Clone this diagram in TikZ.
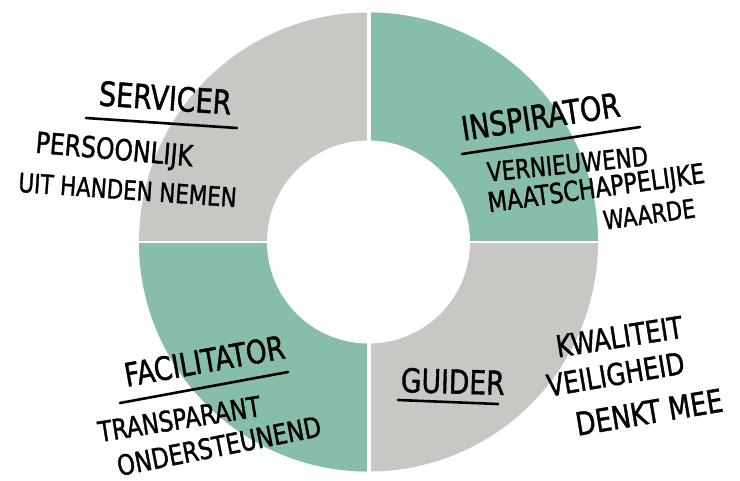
\documentclass[tikz,border=0pt]{standalone}
\usepackage{graphicx}
\usepackage{fontspec}
\setmainfont{DejaVu Sans Condensed}
\newfontfamily\handfont{DejaVu Sans Condensed}[FakeBold=1.3]
\definecolor{ringgray}{RGB}{201,199,195}
\definecolor{ringgreen}{RGB}{135,190,169}
\newcommand{\hand}[1]{\scalebox{0.97}[1.08]{\handfont #1}}
\begin{document}
\begin{tikzpicture}[x=1pt,y=-1pt,
  lbl/.style={anchor=base,inner sep=0pt,text=black,font=\fontsize{#1}{#1}\selectfont},
  uline/.style={line width=2.6pt,line cap=round,black}]
\fill[white] (0,0) rectangle (740,480);
\useasboundingbox (0,0) rectangle (740,480);
\coordinate (c) at (368.5,242);
% donut
\fill[ringgray] (c) circle[radius=229.5pt];
\begin{scope}
  \clip (368.5,0) rectangle (740,242);
  \fill[ringgreen] (c) circle[radius=229.5pt];
\end{scope}
\begin{scope}
  \clip (0,242) rectangle (368.5,480);
  \fill[ringgreen] (c) circle[radius=229.5pt];
\end{scope}
\fill[white] (c) circle[radius=101.5pt];
\fill[white] (366.5,0) rectangle (370.5,480);
\fill[white] (0,240.6) rectangle (740,243.4);
% SERVICER
\node[lbl=31,rotate=-4] (servicer) at (164.5,110) {\hand{SERVICER}};
\coordinate (su1) at (86,118); \coordinate (su2) at (237,128);
\draw[uline] (su1) -- (su2);
\node[lbl=27,rotate=-5] (persoonlijk) at (113.5,159.5) {\hand{PERSOONLIJK}};
\node[lbl=24.5,rotate=-4] (uithanden) at (127,199.5) {\hand{UIT HANDEN NEMEN}};
% INSPIRATOR
\node[lbl=31,rotate=8.8] (inspirator) at (542.5,128.5) {\hand{INSPIRATOR}};
\coordinate (iu1) at (462,154); \coordinate (iu2) at (640,127);
\draw[uline] (iu1) -- (iu2);
\node[lbl=24.5,rotate=5.8] (vernieuwend) at (568.5,173.5) {\hand{VERNIEUWEND}};
\node[lbl=25.5,rotate=7.8] (maatsch) at (597.5,197.5) {\hand{MAATSCHAPPELIJKE}};
\node[lbl=24,rotate=7.8] (waarde) at (650.5,223.5) {\hand{WAARDE}};
% FACILITATOR
\node[lbl=30,rotate=10.2] (facilitator) at (206.5,372.5) {\hand{FACILITATOR}};
\coordinate (fu1) at (120,403); \coordinate (fu2) at (288,372);
\draw[uline] (fu1) -- (fu2);
\node[lbl=26,rotate=9.2] (transparant) at (181,429) {\hand{TRANSPARANT}};
\node[lbl=26,rotate=11.2] (ondersteunend) at (221,456) {\hand{ONDERSTEUNEND}};
% GUIDER
\node[lbl=30.5,rotate=-1.6] (guider) at (452.5,393.5) {\hand{GUIDER}};
\coordinate (gu1) at (398,400); \coordinate (gu2) at (498,404);
\draw[uline] (gu1) -- (gu2);
\node[lbl=28,rotate=9] (kwaliteit) at (621,347.5) {\hand{KWALITEIT}};
\node[lbl=28,rotate=9.7] (veiligheid) at (617.5,385) {\hand{VEILIGHEID}};
\node[lbl=29.5,rotate=9.5] (denkt) at (651,423.5) {\hand{DENKT MEE}};
\end{tikzpicture}
\end{document}
